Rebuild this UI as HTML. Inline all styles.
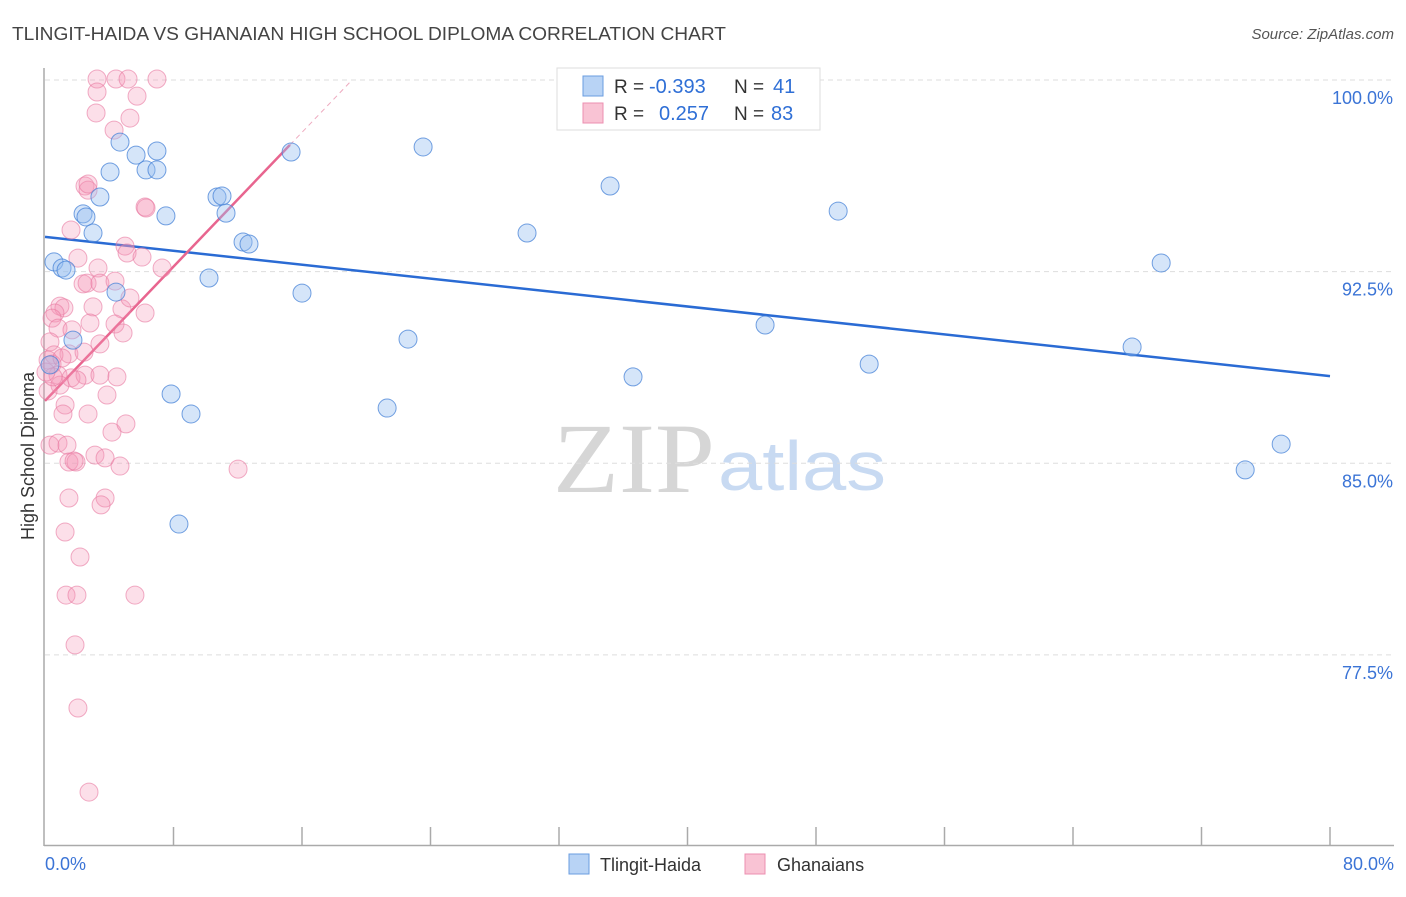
<!DOCTYPE html>
<html><head><meta charset="utf-8"><style>
body{margin:0;background:#fff;font-family:"Liberation Sans",sans-serif}
</style></head><body>
<svg id="chart" width="1406" height="892" xmlns="http://www.w3.org/2000/svg" font-family="Liberation Sans, sans-serif">
<text x="12" y="40" font-size="18" fill="#444" textLength="714" lengthAdjust="spacingAndGlyphs">TLINGIT-HAIDA VS GHANAIAN HIGH SCHOOL DIPLOMA CORRELATION CHART</text>
<text x="1394" y="39" font-size="15" fill="#555" text-anchor="end" font-style="italic">Source: ZipAtlas.com</text>
<text transform="translate(34,456) rotate(-90)" font-size="18" fill="#333" text-anchor="middle">High School Diploma</text>
<g>
<text x="553" y="492" font-size="100" fill="#d6d6d6" style="font-family:'Liberation Serif',serif" textLength="162" lengthAdjust="spacingAndGlyphs">ZIP</text>
<text x="718" y="490" font-size="70" fill="#c8daf2" textLength="168" lengthAdjust="spacingAndGlyphs">atlas</text>
</g>
<g id="grid"></g><g id="axes"></g><g id="trends"></g><g id="pts"></g>
<g>
<rect x="557" y="68" width="263" height="62" fill="#fff" stroke="#ddd"/>
<rect x="583" y="76" width="20" height="20" fill="#b8d3f5" stroke="#6a9de0"/>
<rect x="583" y="103" width="20" height="20" fill="#f9c3d4" stroke="#ec8fb0"/>
<text x="614" y="93" font-size="19" fill="#333">R =</text>
<text x="649" y="93" font-size="20" fill="#2f6fd6">-0.393</text>
<text x="734" y="93" font-size="19" fill="#333">N =</text>
<text x="773" y="93" font-size="20" fill="#2f6fd6">41</text>
<text x="614" y="120" font-size="19" fill="#333">R =</text>
<text x="659" y="120" font-size="20" fill="#2f6fd6">0.257</text>
<text x="734" y="120" font-size="19" fill="#333">N =</text>
<text x="771" y="120" font-size="20" fill="#2f6fd6">83</text>
</g>
<g>
<rect x="569" y="854" width="20" height="20" fill="#b8d3f5" stroke="#6a9de0"/>
<text x="600" y="871" font-size="18" fill="#333">Tlingit-Haida</text>
<rect x="745" y="854" width="20" height="20" fill="#f9c3d4" stroke="#ec8fb0"/>
<text x="777" y="871" font-size="18" fill="#333">Ghanaians</text>
</g>
</svg>
<script>
const yTicks=[100,92.5,85,77.5];
const yTickLabels=["100.0%","92.5%","85.0%","77.5%"];
const xTickLabels=["0.0%","80.0%"];
const blueX=[0.56,1.06,1.31,1.74,2.37,2.55,2.99,3.42,4.05,4.42,4.67,5.67,6.29,6.97,6.97,7.53,7.85,8.34,9.09,10.21,10.71,11.02,11.27,12.33,12.70,15.32,16.00,21.30,22.60,23.54,30.01,35.18,36.61,44.83,49.38,51.31,67.68,69.49,74.72,76.96,0.31];
const blueY=[92.88,92.64,92.56,89.82,94.76,94.64,94.01,95.42,96.40,91.70,97.57,97.06,96.48,97.22,96.48,94.68,87.71,82.62,86.93,92.25,95.42,95.46,94.79,93.66,93.58,97.18,91.66,87.16,89.86,97.38,94.01,95.85,88.38,90.41,94.87,88.88,89.55,92.84,84.74,85.75,88.85];
const pinkX=[3.24,4.42,5.17,6.97,3.24,5.73,3.18,5.29,4.30,2.49,2.68,2.68,6.23,6.29,1.62,4.98,5.11,2.05,6.04,3.30,7.29,2.37,2.62,3.42,4.36,2.99,4.79,0.93,1.18,6.23,0.62,0.44,0.81,1.68,2.80,4.36,4.86,5.29,1.49,3.42,2.43,0.31,0.56,0.19,0.44,0.81,1.62,2.49,3.42,4.48,0.93,1.99,3.86,1.25,1.12,2.68,0.31,0.81,1.37,1.49,1.93,1.81,3.11,3.74,4.67,4.17,5.04,12.02,1.49,3.74,3.49,1.25,2.18,1.31,1.99,5.60,1.87,2.05,2.74,0.19,0.50,0.06,1.06];
const pinkY=[100.04,100.04,100.04,100.04,99.53,99.37,98.71,98.51,98.04,95.85,95.69,95.93,95.03,94.99,94.13,93.50,93.23,93.03,93.07,92.64,92.64,92.02,92.05,92.05,92.13,91.12,91.04,91.15,91.08,90.88,90.88,90.68,90.29,90.22,90.49,90.45,90.10,91.47,89.28,89.67,89.35,89.75,89.24,89.04,88.88,88.45,88.34,88.45,88.45,88.38,88.06,88.26,87.67,87.28,86.93,86.93,85.71,85.79,85.71,85.05,85.05,85.09,85.32,85.21,84.89,86.22,86.54,84.77,83.64,83.64,83.37,82.31,81.33,79.84,79.84,79.84,77.89,75.42,72.13,87.83,88.38,88.57,89.12];
const blueTrend=[93.86,88.41]; // at x=0 and x=80
const pinkTrend=[87.44,0.657]; // intercept, slope
const NS="http://www.w3.org/2000/svg";
const X=v=>45+v*(1285/80), Y=v=>80+(100-v)*25.55;
function mk(t,a,p){const e=document.createElementNS(NS,t);for(const k in a)e.setAttribute(k,a[k]);document.getElementById(p).appendChild(e);return e;}
yTicks.forEach((t,i)=>{
 const g=mk('line',{x1:45,x2:1394,y1:Y(t),y2:Y(t),stroke:'#ddd','stroke-dasharray':'5,4'},'grid');
 
 
 const l=mk('text',{x:1393,y:Y(t)+24,'font-size':18,fill:'#3b74d6','text-anchor':'end'},'axes');
 l.textContent=yTickLabels[i];
 
 
});
mk('line',{x1:44,x2:44,y1:68,y2:846,stroke:'#aaa','stroke-width':1.5},'axes');
mk('line',{x1:44,x2:1394,y1:845.5,y2:845.5,stroke:'#aaa','stroke-width':1.5},'axes');
for(let i=1;i<=10;i++){const t=mk('line',{x1:X(i*8),x2:X(i*8),y1:827,y2:845,stroke:'#aaa','stroke-width':1.5},'axes');}
[[0,'start',45],[80,'end',1394]].forEach((d,i)=>{const t=mk('text',{x:d[2],y:870,'font-size':18,fill:'#3b74d6','text-anchor':d[1]},'axes');t.textContent=xTickLabels[i];});
const bt=mk('line',{x1:X(0),y1:Y(blueTrend[0]),x2:X(80),y2:Y(blueTrend[1]),stroke:'#2a6bd4','stroke-width':2.5},'trends');


const pt=mk('line',{x1:X(0),y1:Y(pinkTrend[0]),x2:X(15.25),y2:Y(pinkTrend[0]+pinkTrend[1]*15.25),stroke:'#e8658f','stroke-width':2.5},'trends');


const pd=mk('line',{x1:X(15.25),y1:Y(pinkTrend[0]+pinkTrend[1]*15.25),x2:X(19),y2:Y(pinkTrend[0]+pinkTrend[1]*19),stroke:'#eeaabf','stroke-width':1,'stroke-dasharray':'5,4'},'trends');


pinkX.forEach((v,i)=>{const c=mk('circle',{cx:X(v),cy:Y(pinkY[i]),r:9,fill:'rgba(244,150,182,0.3)',stroke:'rgba(232,120,160,0.6)','stroke-width':1},'pts');

});
blueX.forEach((v,i)=>{const c=mk('circle',{cx:X(v),cy:Y(blueY[i]),r:9,fill:'rgba(150,190,240,0.4)',stroke:'rgba(70,130,215,0.75)','stroke-width':1},'pts');

});
</script>
</body></html>
